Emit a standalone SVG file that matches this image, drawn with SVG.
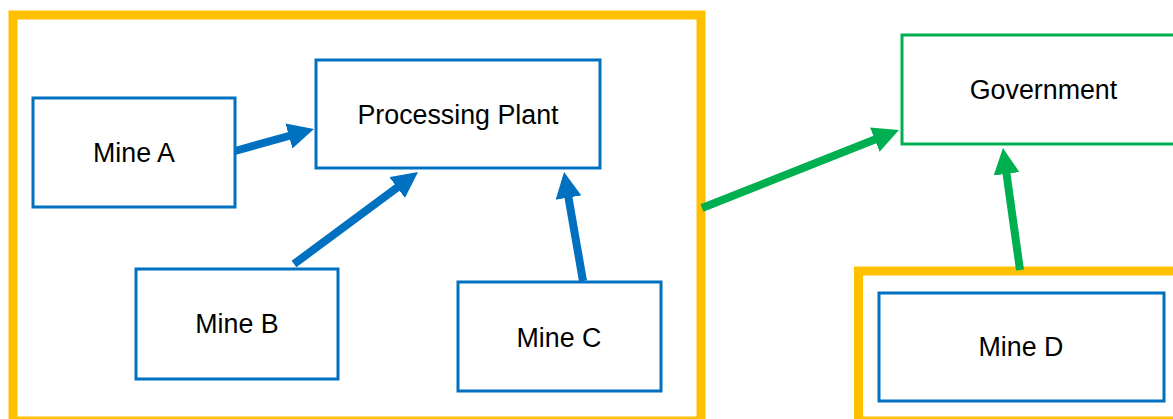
<svg xmlns="http://www.w3.org/2000/svg" width="1173" height="419" viewBox="0 0 1173 419">
<style>
.grp{fill:none;stroke:#FFC000;stroke-width:9}
.box{fill:#fff;stroke:#0070C0;stroke-width:3}
.gbox{fill:#fff;stroke:#00B050;stroke-width:3}
.lbl{font-family:"Liberation Sans",Arial,sans-serif;font-size:26.8px;fill:#000;text-anchor:middle}
.ab{fill:none;stroke:#0070C0;stroke-width:8}
.ag{fill:none;stroke:#00B050;stroke-width:8}
</style>
<defs>
<marker id="hb" markerUnits="userSpaceOnUse" markerWidth="26" markerHeight="26" refX="11" refY="13" orient="auto"><path d="M0,0 L26,13 L0,26 z" fill="#0070C0"/></marker>
<marker id="hg" markerUnits="userSpaceOnUse" markerWidth="26" markerHeight="26" refX="11" refY="13" orient="auto"><path d="M0,0 L26,13 L0,26 z" fill="#00B050"/></marker>
</defs>
<rect fill="#fff" width="1173" height="419"/>
<g id="group-left"><rect class="grp" x="13" y="15" width="688" height="406"/></g>
<g id="group-right"><rect class="grp" x="858.5" y="271" width="330" height="150"/></g>
<g id="mine-a"><rect class="box" x="33" y="98" width="202" height="109"/><text class="lbl" x="134" y="162">Mine A</text></g>
<g id="processing-plant"><rect class="box" x="316" y="60" width="284" height="108"/><text class="lbl" x="458" y="124">Processing Plant</text></g>
<g id="mine-b"><rect class="box" x="136" y="269" width="202" height="110"/><text class="lbl" x="237" y="333">Mine B</text></g>
<g id="mine-c"><rect class="box" x="458" y="282" width="203" height="109"/><text class="lbl" x="559" y="347">Mine C</text></g>
<g id="government"><rect class="gbox" x="902" y="35" width="283" height="109"/><text class="lbl" x="1043.5" y="99">Government</text></g>
<g id="mine-d"><rect class="box" x="879" y="293" width="285" height="108"/><text class="lbl" x="1021" y="356">Mine D</text></g>
<g id="connectors">
<line class="ab" x1="235" y1="151" x2="299.5" y2="133" marker-end="url(#hb)"/>
<line class="ab" x1="294" y1="264" x2="406" y2="181" marker-end="url(#hb)"/>
<line class="ab" x1="583" y1="281" x2="566.6" y2="186.8" marker-end="url(#hb)"/>
<line class="ag" x1="702" y1="208" x2="885" y2="135.5" marker-end="url(#hg)"/>
<line class="ag" x1="1020" y1="270" x2="1005" y2="162.9" marker-end="url(#hg)"/>
</g>
</svg>
